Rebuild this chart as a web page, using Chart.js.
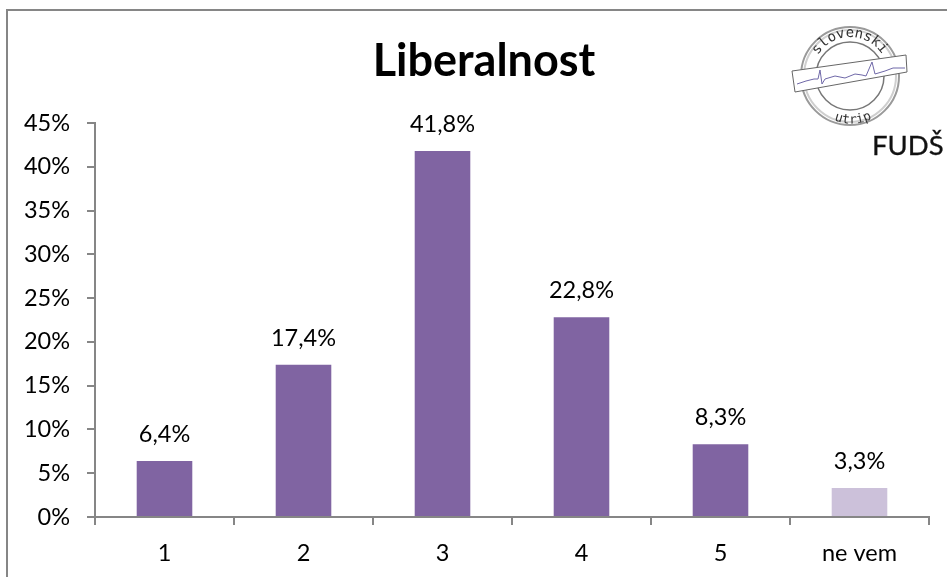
<!DOCTYPE html>
<html lang="en">
<head>
  <meta charset="UTF-8">
  <title>Liberalnost</title>
  <script src="https://cdn.jsdelivr.net/npm/chart.js"></script>
  <style>
    html, body { margin: 0; padding: 0; background: #fff; overflow: hidden; }
    #wrap { position: relative; width: 947px; height: 577px; overflow: hidden; }
    #frame { position: absolute; left: 6px; top: 9px; width: 960px; height: 590px; border: 2px solid #868686; box-sizing: border-box; }
    #logo { position: absolute; left: 0; top: 0; }
  </style>
</head>
<body>
  <div id="wrap">
    <div id="frame"></div>
    <canvas id="chart" width="947" height="577" style="position:absolute;left:0;top:0"></canvas>
    <svg id="logo" width="947" height="577">
      <defs>
        <path id="arcTop" d="M 818 55 A 38 38 0 0 1 887 65"/>
        <path id="arcBottom" d="M 826 116 A 46 46 0 0 0 882 112"/>
      </defs>
      <circle cx="850" cy="76" r="49" fill="none" stroke="#9a9a9a" stroke-width="2"/>
      <circle cx="850" cy="76" r="46" fill="none" stroke="#cfcfcf" stroke-width="2"/>
      <circle cx="850" cy="76" r="34" fill="none" stroke="#777" stroke-width="1.5"/>
      <text font-family="DejaVu Sans Mono" font-size="14" fill="#333"><textPath href="#arcTop">slovenski</textPath></text>
      <text font-family="DejaVu Sans Mono" font-size="13" fill="#333"><textPath href="#arcBottom" startOffset="15%">utrip</textPath></text>
      <polygon points="792,71 906,55 907,72 795,92" fill="#fff" stroke="#666" stroke-width="1"/>
      <polyline points="797,84 806,81 814,79 818,79 820,70 822,84 825,79 835,76 845,78 855,74 862,75 866,76 872,62 875,74 885,71 893,68 905,68" fill="none" stroke="#6f68a8" stroke-width="1"/>
      <text x="872" y="155" font-family="Lato" font-size="27.5" fill="#111" stroke="#111" stroke-width="0.3">FUDŠ</text>
    </svg>
  </div>

  <script>
    const chartTitle = 'Liberalnost';
    const categories = ['1', '2', '3', '4', '5', 'ne vem'];
    const values = [6.4, 17.4, 41.8, 22.8, 8.3, 3.3];
    const valueLabels = ['6,4%', '17,4%', '41,8%', '22,8%', '8,3%', '3,3%'];
    const barColors = ['#8064a2', '#8064a2', '#8064a2', '#8064a2', '#8064a2', '#ccc1da'];
    const fontName = 'Lato';

    // title sits off the canvas centre, so it is drawn here
    const titleText = {
      id: 'titleText',
      afterDraw(chart) {
        const c = chart.ctx;
        c.save();
        c.font = 'bold 45px ' + fontName;
        c.fillStyle = '#000';
        c.textAlign = 'center';
        c.textBaseline = 'middle';
        c.fillText(chartTitle, 484, 61);
        c.restore();
      }
    };

    // labels above the bars
    const barLabels = {
      id: 'barLabels',
      afterDatasetsDraw(chart) {
        const c = chart.ctx;
        const bars = chart.getDatasetMeta(0).data;
        c.save();
        c.font = '23.5px ' + fontName;
        c.fillStyle = '#000';
        c.textAlign = 'center';
        c.textBaseline = 'alphabetic';
        bars.forEach((bar, i) => {
          c.fillText(valueLabels[i], bar.x, bar.y - 19);
        });
        c.restore();
      }
    };

    new Chart(document.getElementById('chart'), {
      type: 'bar',
      data: {
        labels: categories,
        datasets: [{
          data: values,
          backgroundColor: barColors,
          categoryPercentage: 0.4,
          barPercentage: 1
        }]
      },
      plugins: [barLabels, titleText],
      options: {
        responsive: false,
        animation: false,
        layout: { padding: { left: 0, right: 18, top: 123, bottom: 0 } },
        plugins: {
          legend: { display: false },
          tooltip: { enabled: false }
        },
        scales: {
          x: {
            afterFit(scale) { scale.height = 60; },
            grid: { display: true, drawOnChartArea: false, color: '#868686', lineWidth: 2, tickLength: 8, offset: true },
            border: { color: '#868686', width: 2 },
            ticks: { color: '#000', font: { family: fontName, size: 23.5 }, padding: 14, maxRotation: 0 }
          },
          y: {
            min: 0,
            max: 45,
            afterFit(scale) { scale.width = 95; },
            grid: { display: true, drawOnChartArea: false, color: '#868686', lineWidth: 2, tickLength: 8 },
            border: { color: '#868686', width: 2 },
            ticks: { stepSize: 5, color: '#000', font: { family: fontName, size: 23.5 }, padding: 17, callback: v => v + '%' }
          }
        }
      }
    });
  </script>
</body>
</html>
